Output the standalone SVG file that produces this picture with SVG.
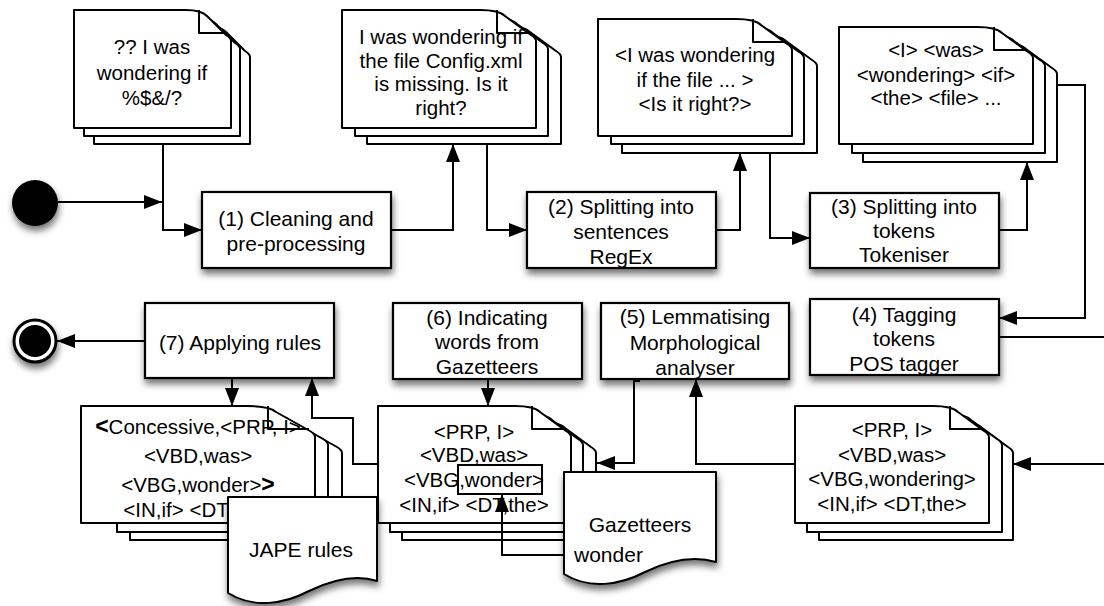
<svg xmlns="http://www.w3.org/2000/svg" width="1104" height="606" viewBox="0 0 1104 606">
<defs>
<style>
.pg{fill:#fff;stroke:#000;stroke-width:2;stroke-linejoin:round}
.fold{fill:none;stroke:#000;stroke-width:2;stroke-linejoin:round}
.box{fill:#fff;stroke:#000;stroke-width:2.2;filter:url(#sh)}
.t{font-family:"Liberation Sans",Arial,Helvetica,sans-serif;font-size:20.5px;text-anchor:middle;fill:#000}
.b{font-size:21px}
.c{fill:none;stroke:#000;stroke-width:2}
.ca{marker-end:url(#ah)}
</style>
<filter id="sh" x="-20%" y="-20%" width="140%" height="160%">
<feDropShadow dx="1" dy="5" stdDeviation="3.5" flood-color="#000" flood-opacity="0.55"/>
</filter>
<marker id="ah" markerUnits="userSpaceOnUse" markerWidth="18" markerHeight="14" refX="18" refY="7" orient="auto" viewBox="0 0 18 14">
<path d="M0,0 L18,7 L0,14 z" fill="#000"/>
</marker>
</defs>
<rect width="1104" height="606" fill="#fff"/>

<g id="start">
<circle cx="35" cy="203" r="23" fill="#000" filter="url(#sh)"/>
</g>
<g id="end">
<circle cx="35" cy="341" r="21" fill="#fff" stroke="#000" stroke-width="3" filter="url(#sh)"/>
<circle cx="35" cy="341" r="16" fill="#000"/>
</g>

<g id="doc1">
<path class="pg" d="M94,26 H205 Q220,26 226,32 L245,51 Q250,54 250,57 V144 H94 Z"/>
<path class="pg" d="M84,18 H195 Q210,18 216,24 L235,43 Q240,46 240,49 V136 H84 Z"/>
<path class="pg" d="M74,10 H186 Q201,10 207,16 L226,35 Q231,38 231,41 V128 H74 Z"/>
<path class="fold" d="M199,10 V33 H225"/>
<text class="t" x="152" y="54">?? I was</text>
<text class="t" x="152" y="80">wondering if</text>
<text class="t" x="152" y="105">%$&amp;/?</text>
</g>

<g id="doc2">
<path class="pg" d="M367,26 H505 Q524,26 530,32 L556,51 Q561,54 561,57 V144 H367 Z"/>
<path class="pg" d="M355,18 H492 Q511,18 517,24 L543,43 Q548,46 548,49 V136 H355 Z"/>
<path class="pg" d="M342,10 H480 Q499,10 505,16 L531,35 Q536,38 536,41 V128 H342 Z"/>
<path class="fold" d="M497,10 V33 H530"/>
<text class="t" x="441" y="44">I was wondering if</text>
<text class="t" x="441" y="68">the file Config.xml</text>
<text class="t" x="441" y="91">is missing. Is it</text>
<text class="t" x="441" y="115">right?</text>
</g>

<g id="doc3">
<path class="pg" d="M622,35 H761 Q780,35 786,41 L812,60 Q817,63 817,66 V153 H622 Z"/>
<path class="pg" d="M611,27 H748 Q767,27 773,33 L799,52 Q804,55 804,58 V144 H611 Z"/>
<path class="pg" d="M598,19 H736 Q755,19 761,25 L787,44 Q792,47 792,50 V136 H598 Z"/>
<path class="fold" d="M753,19 V42 H786"/>
<text class="t" x="695" y="62">&lt;I was wondering</text>
<text class="t" x="695" y="87">if the file ... &gt;</text>
<text class="t" x="695" y="111">&lt;Is it right?&gt;</text>
</g>

<g id="doc4">
<path class="pg" d="M863,43 H1001 Q1020,43 1026,49 L1052,68 Q1057,71 1057,74 V162 H863 Z"/>
<path class="pg" d="M852,35 H989 Q1008,35 1014,41 L1040,60 Q1045,63 1045,66 V153 H852 Z"/>
<path class="pg" d="M839,27 H977 Q996,27 1002,33 L1028,52 Q1033,55 1033,58 V144 H839 Z"/>
<path class="fold" d="M994,27 V50 H1027"/>
<text class="t" x="936" y="57">&lt;I&gt; &lt;was&gt;</text>
<text class="t" x="936" y="82">&lt;wondering&gt; &lt;if&gt;</text>
<text class="t" x="936" y="105">&lt;the&gt; &lt;file&gt; ...</text>
</g>

<g id="doc5">
<path class="pg" d="M819,422 H957 Q976,422 982,428 L1008,447 Q1013,450 1013,453 V540 H819 Z"/>
<path class="pg" d="M807,414 H946 Q965,414 971,420 L997,439 Q1002,442 1002,445 V532 H807 Z"/>
<path class="pg" d="M795,406 H933 Q952,406 958,412 L984,431 Q989,434 989,437 V523 H795 Z"/>
<path class="fold" d="M950,406 V429 H983"/>
<text class="t" x="892" y="437">&lt;PRP, I&gt;</text>
<text class="t" x="892" y="462">&lt;VBD,was&gt;</text>
<text class="t" x="892" y="486">&lt;VBG,wondering&gt;</text>
<text class="t" x="892" y="511">&lt;IN,if&gt; &lt;DT,the&gt;</text>
</g>

<g id="doc7">
<path class="pg" d="M130,422 H274 Q297,422 303,428 L337,447 Q342,450 342,453 V540 H130 Z"/>
<path class="pg" d="M117,414 H260 Q283,414 289,420 L323,439 Q328,442 328,445 V532 H117 Z"/>
<path class="pg" d="M81,406 H247 Q270,406 276,412 L310,431 Q315,434 315,437 V523 H81 Z"/>
<path class="fold" d="M268,406 V429 H309"/>
<text class="t" x="198" y="434"><tspan font-weight="bold" font-size="23">&lt;</tspan>Concessive,&lt;PRP, I&gt;</text>
<text class="t" x="198" y="463">&lt;VBD,was&gt;</text>
<text class="t" x="198" y="492">&lt;VBG,wonder&gt;<tspan font-weight="bold" font-size="23">&gt;</tspan></text>
<text class="t" x="198" y="517">&lt;IN,if&gt; &lt;DT,the&gt;</text>
</g>

<g id="doc6">
<path class="pg" d="M402,422 H540 Q559,422 565,428 L591,447 Q596,450 596,453 V540 H402 Z"/>
<path class="pg" d="M390,414 H527 Q546,414 552,420 L578,439 Q583,442 583,445 V532 H390 Z"/>
<path class="pg" d="M378,406 H515 Q534,406 540,412 L566,431 Q571,434 571,437 V523 H378 Z"/>
<path class="fold" d="M532,406 V429 H565"/>
<text class="t" x="474" y="439">&lt;PRP, I&gt;</text>
<text class="t" x="474" y="462">&lt;VBD,was&gt;</text>
<text class="t" x="474" y="487">&lt;VBG,wonder&gt;</text>
<text class="t" x="474" y="512">&lt;IN,if&gt; &lt;DT,the&gt;</text>
<rect x="458" y="465" width="84" height="29" fill="none" stroke="#000" stroke-width="2"/>
</g>

<g id="jape">
<path class="pg" filter="url(#sh)" d="M228,497 H377 V581 C358,575 334,579 309,591 C284,604 254,609 228,593 Z"/>
<text class="t b" x="301" y="557">JAPE rules</text>
</g>

<g id="gazetteers">
<path class="pg" filter="url(#sh)" d="M564,472 H716 V562 C695,556 670,560 645,572 C620,585 590,590 564,574 Z"/>
<text class="t b" x="640" y="532">Gazetteers</text>
<text class="t b" x="574" y="562" style="text-anchor:start">wonder</text>
</g>

<g id="box1">
<rect class="box" x="202" y="192" width="189" height="76"/>
<text class="t b" x="296" y="226">(1) Cleaning and</text>
<text class="t b" x="296" y="251">pre-processing</text>
</g>
<g id="box2">
<rect class="box" x="527" y="192" width="189" height="76"/>
<text class="t b" x="621" y="214">(2) Splitting into</text>
<text class="t b" x="621" y="239">sentences</text>
<text class="t b" x="621" y="264">RegEx</text>
</g>
<g id="box3">
<rect class="box" x="810" y="193" width="189" height="75"/>
<text class="t b" x="904" y="214">(3) Splitting into</text>
<text class="t b" x="904" y="238">tokens</text>
<text class="t b" x="904" y="262">Tokeniser</text>
</g>
<g id="box4">
<rect class="box" x="810" y="299" width="189" height="76"/>
<text class="t b" x="904" y="322">(4) Tagging</text>
<text class="t b" x="904" y="346">tokens</text>
<text class="t b" x="904" y="371">POS tagger</text>
</g>
<g id="box5">
<rect class="box" x="601" y="303" width="188" height="76"/>
<text class="t b" x="695" y="324">(5) Lemmatising</text>
<text class="t b" x="695" y="350">Morphological</text>
<text class="t b" x="695" y="375">analyser</text>
</g>
<g id="box6">
<rect class="box" x="393" y="303" width="189" height="76"/>
<text class="t b" x="487" y="325">(6) Indicating</text>
<text class="t b" x="487" y="349">words from</text>
<text class="t b" x="487" y="374">Gazetteers</text>
</g>
<g id="box7">
<rect class="box" x="145" y="303" width="189" height="75"/>
<text class="t b" x="240" y="350">(7) Applying rules</text>
</g>

<g id="connectors">
<path class="c ca" d="M58,202 H162"/>
<path class="c ca" d="M163,144 V230 H202"/>
<path class="c ca" d="M391,230 H453 V144"/>
<path class="c ca" d="M487,144 V230 H527"/>
<path class="c ca" d="M716,230 H740 V153"/>
<path class="c ca" d="M770,153 V238 H810"/>
<path class="c ca" d="M999,230 H1027 V162"/>
<path class="c ca" d="M1057,85 H1085 V318 H999"/>
<path class="c" d="M999,337 H1104"/>
<path class="c ca" d="M1104,464 H1013"/>
<path class="c ca" d="M795,464 H696 V379"/>
<path class="c ca" d="M640,381 H634 V463 H597"/>
<path class="c ca" d="M488,379 V406"/>
<path class="c ca" d="M378,464 H353 V418 H312 V378"/>
<path class="c ca" d="M232,378 V406"/>
<path class="c ca" d="M145,341 H57"/>
<path class="c ca" d="M564,555 H502 V494"/>
</g>
</svg>
